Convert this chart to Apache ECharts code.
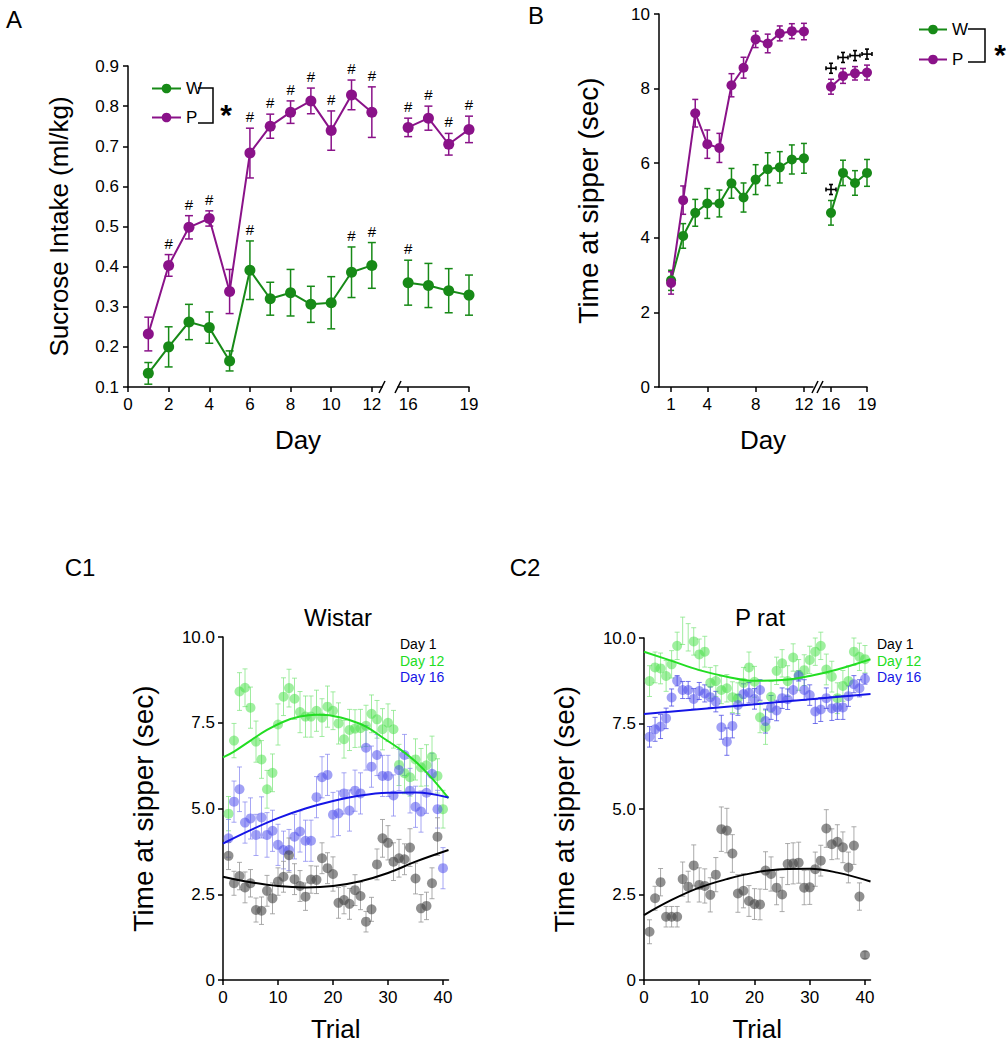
<!DOCTYPE html>
<html>
<head>
<meta charset="utf-8">
<title>Sucrose intake and time at sipper</title>
<script src="https://cdn.jsdelivr.net/npm/echarts@6/dist/echarts.min.js"></script>
<style>
  html, body { margin: 0; padding: 0; background: #fff; }
  #chart { width: 1006px; height: 1050px; }
</style>
</head>
<body>
<div id="chart"></div>
<script>
// ---- panel A : sucrose intake (ml/kg) ----
const daysA1 = [1, 2, 3, 4, 5, 6, 7, 8, 9, 10, 11, 12];
const daysA2 = [16, 17, 18, 19];
const wA1 = [0.134, 0.200, 0.262, 0.248, 0.165, 0.391, 0.320, 0.335, 0.306, 0.310, 0.386, 0.403];
const wA1Err = [0.027, 0.050, 0.044, 0.039, 0.025, 0.073, 0.041, 0.058, 0.045, 0.065, 0.063, 0.057];
const pA1 = [0.232, 0.403, 0.498, 0.520, 0.338, 0.683, 0.750, 0.785, 0.813, 0.739, 0.828, 0.785];
const pA1Err = [0.042, 0.027, 0.029, 0.019, 0.055, 0.062, 0.030, 0.028, 0.032, 0.049, 0.037, 0.063];
const wA2 = [0.360, 0.353, 0.340, 0.329];
const wA2Err = [0.056, 0.055, 0.055, 0.050];
const pA2 = [0.747, 0.770, 0.705, 0.742];
const pA2Err = [0.023, 0.030, 0.027, 0.033];
const hashDaysW = [6, 11, 12, 16];
const hashDaysP = [2, 3, 4, 6, 7, 8, 9, 10, 11, 12, 16, 17, 18, 19];

// ---- panel B : time at sipper (sec) ----
const daysB1 = [1, 2, 3, 4, 5, 6, 7, 8, 9, 10, 11, 12];
const daysB2 = [16, 17, 18, 19];
const wB1 = [2.86, 4.05, 4.67, 4.92, 4.92, 5.46, 5.08, 5.56, 5.84, 5.89, 6.10, 6.13];
const wB1Err = [0.27, 0.33, 0.36, 0.40, 0.36, 0.40, 0.39, 0.40, 0.44, 0.42, 0.39, 0.40];
const pB1 = [2.79, 5.01, 7.34, 6.51, 6.41, 8.09, 8.56, 9.32, 9.21, 9.48, 9.54, 9.53];
const pB1Err = [0.30, 0.38, 0.37, 0.38, 0.39, 0.31, 0.28, 0.22, 0.25, 0.20, 0.20, 0.22];
const wB2 = [4.67, 5.74, 5.47, 5.74];
const wB2Err = [0.33, 0.34, 0.33, 0.36];
const pB2 = [8.05, 8.34, 8.41, 8.43];
const pB2Err = [0.20, 0.20, 0.18, 0.20];
const crossDaysW = [16];
const crossDaysP = [16, 17, 18, 19];

// ---- panels C1 / C2 : per-trial time at sipper ----
const trials = [1, 2, 3, 4, 5, 6, 7, 8, 9, 10, 11, 12, 13, 14, 15, 16, 17, 18, 19, 20,
  21, 22, 23, 24, 25, 26, 27, 28, 29, 30, 31, 32, 33, 34, 35, 36, 37, 38, 39, 40];

const c1Day1 = [3.62, 2.82, 3.03, 2.70, 2.82, 2.04, 2.02, 2.60, 2.38, 2.87, 3.01, 3.64, 2.94, 2.74, 2.43, 2.93, 2.92, 3.55, 3.26, 3.09,
  2.25, 2.33, 2.22, 2.62, 2.45, 1.70, 2.06, 3.37, 4.13, 4.00, 3.45, 3.55, 3.52, 3.86, 2.96, 2.09, 2.16, 2.82, 4.18, null];
const c1Day1Err = [0.40, 0.35, 0.40, 0.45, 0.40, 0.35, 0.40, 0.45, 0.45, 0.40, 0.45, 0.50, 0.45, 0.45, 0.40, 0.40, 0.40, 0.45, 0.45, 0.50,
  0.45, 0.40, 0.45, 0.45, 0.40, 0.30, 0.35, 0.45, 0.55, 0.50, 0.55, 0.55, 0.45, 0.55, 0.45, 0.40, 0.40, 0.45, 0.55, 0];
const c1Day12 = [4.85, 6.98, 8.41, 8.52, 7.94, 6.95, 6.43, 5.56, 6.04, 7.45, 8.26, 8.51, 8.20, 7.81, 7.68, 7.68, 7.85, 7.65, 7.97, 7.85,
  7.48, 7.02, 7.29, 7.33, 7.34, 7.41, 7.76, 7.60, 7.31, 7.50, 7.31, 6.27, 6.03, 5.91, 6.43, 6.20, 6.26, 6.51, 5.95, 4.98];
const c1Day12Err = [0.50, 0.50, 0.55, 0.55, 0.60, 0.60, 0.55, 0.55, 0.55, 0.60, 0.55, 0.55, 0.60, 0.60, 0.60, 0.60, 0.60, 0.55, 0.60, 0.55,
  0.60, 0.55, 0.60, 0.55, 0.55, 0.60, 0.55, 0.55, 0.60, 0.55, 0.55, 0.60, 0.60, 0.55, 0.60, 0.55, 0.60, 0.60, 0.50, 0.55];
const c1Day16 = [4.13, 5.20, 5.56, 4.59, 4.71, 4.23, 4.74, 4.23, 4.35, 3.94, 3.79, 3.79, 4.18, 4.33, 4.06, 4.06, 5.33, 5.91, 5.98, 4.82,
  4.86, 5.44, 4.94, 5.52, 5.44, 6.77, 6.22, 6.56, 5.95, 5.95, 5.38, 6.12, 6.56, 5.52, 5.05, 4.91, 5.46, 6.01, 4.98, 3.26];
const c1Day16Err = [0.55, 0.60, 0.65, 0.60, 0.60, 0.60, 0.60, 0.65, 0.60, 0.60, 0.55, 0.60, 0.65, 0.60, 0.60, 0.60, 0.60, 0.60, 0.60, 0.65,
  0.65, 0.60, 0.60, 0.60, 0.60, 0.65, 0.60, 0.60, 0.60, 0.60, 0.60, 0.60, 0.60, 0.65, 0.60, 0.60, 0.60, 0.60, 0.55, 0.60];

const c2Day1 = [1.41, 2.39, 2.86, 1.85, 1.85, 1.85, 2.95, 2.73, 3.35, 2.78, 2.75, 2.49, 3.08, 4.41, 4.37, 3.70, 2.53, 2.61, 2.31, 2.22,
  2.21, 3.20, 3.10, 2.70, 2.50, 3.39, 3.41, 3.43, 2.70, 2.71, 3.24, 3.49, 4.43, 3.97, 4.04, 3.88, 3.29, 3.93, 2.44, 0.73];
const c2Day1Err = [0.35, 0.35, 0.40, 0.30, 0.30, 0.30, 0.50, 0.45, 0.60, 0.50, 0.50, 0.50, 0.50, 0.65, 0.65, 0.55, 0.55, 0.50, 0.45, 0.45,
  0.45, 0.55, 0.50, 0.50, 0.50, 0.60, 0.60, 0.60, 0.50, 0.50, 0.50, 0.45, 0.55, 0.45, 0.50, 0.45, 0.45, 0.55, 0.40, 0.10];
const c2Day12 = [8.74, 9.14, 9.11, 8.89, 9.23, 9.77, 10.21, 10.02, 9.90, 9.52, 9.60, 8.69, 8.74, 8.48, 8.53, 8.27, 8.24, 8.69, 9.14, 8.72,
  7.68, 7.39, 8.28, 9.04, 9.26, 8.74, 9.43, 8.92, 9.06, 9.36, 9.60, 9.77, 9.08, 8.87, 8.24, 8.60, 8.74, 9.60, 9.45, 9.38];
const c2Day12Err = [0.45, 0.45, 0.45, 0.45, 0.40, 0.40, 0.40, 0.40, 0.40, 0.45, 0.45, 0.45, 0.45, 0.40, 0.40, 0.45, 0.45, 0.45, 0.45, 0.45,
  0.45, 0.50, 0.45, 0.40, 0.40, 0.45, 0.40, 0.45, 0.45, 0.40, 0.40, 0.40, 0.45, 0.45, 0.45, 0.45, 0.45, 0.40, 0.40, 0.40];
const c2Day16 = [7.11, 7.33, 7.41, 7.65, 8.26, 8.75, 8.48, 8.48, 8.22, 8.45, 8.38, 8.27, 8.14, 7.39, 6.97, 7.43, 8.04, 8.36, 8.40, 8.22,
  8.48, 7.57, 7.97, 7.88, 8.24, 8.21, 8.48, 8.89, 8.48, 8.33, 7.85, 7.91, 8.24, 7.94, 7.97, 7.97, 8.30, 8.65, 8.53, 8.80];
const c2Day16Err = [0.30, 0.35, 0.35, 0.30, 0.25, 0.15, 0.25, 0.25, 0.30, 0.25, 0.25, 0.30, 0.30, 0.35, 0.40, 0.35, 0.30, 0.30, 0.30, 0.30,
  0.30, 0.35, 0.35, 0.30, 0.30, 0.30, 0.30, 0.15, 0.30, 0.30, 0.35, 0.35, 0.30, 0.35, 0.35, 0.35, 0.30, 0.25, 0.25, 0.15];

// fitted curves, read at a few trials
const c1FitX = [0, 2, 5, 8, 11, 14, 17, 20, 23, 26, 29, 32, 35, 38, 41];
const c1Fit12 = [6.49, 6.66, 6.98, 7.29, 7.53, 7.68, 7.73, 7.70, 7.58, 7.39, 7.07, 6.75, 6.37, 5.88, 5.30];
const fitX = [0, 5, 10, 15, 20, 25, 30, 35, 41];
const c1Fit16 = [3.98, 4.37, 4.72, 5.00, 5.22, 5.38, 5.46, 5.47, 5.32];
const c1Fit1 = [3.01, 2.85, 2.74, 2.70, 2.74, 2.88, 3.12, 3.45, 3.79];
const c2Fit12 = [9.60, 9.33, 9.06, 8.87, 8.75, 8.77, 8.89, 9.08, 9.38];
const c2Fit1 = [1.90, 2.34, 2.70, 2.95, 3.14, 3.24, 3.25, 3.14, 2.88];
const c2Fit16X = [0, 41];
const c2Fit16 = [7.78, 8.36];

const dayNames = ['Day 1', 'Day 12', 'Day 16'];

// ---- styling ----
const FONT = '"Liberation Sans", Arial, Helvetica, sans-serif';
const GREEN = '#178a17';
const PURPLE = '#8a1289';
const C_GREEN = '#22dd22';
const C_BLUE = '#1515e6';

function pts(xs, ys) {
  return xs.map((x, i) => [x, ys[i]]).filter(d => d[1] != null);
}
function bars(xs, ys, es) {
  return xs.map((x, i) => [x, ys[i], es[i]]).filter(d => d[1] != null);
}
function tops(xs, ys, es, keep) {
  return xs.map((x, i) => [x, ys[i] + es[i]]).filter(d => keep.indexOf(d[0]) >= 0);
}

function xAx(grid, min, max, ticks, extra) {
  return Object.assign({
    gridIndex: grid, type: 'value', min: min, max: max,
    axisLine: { onZero: false, lineStyle: { color: '#000', width: 1.5 } },
    axisTick: { customValues: ticks, length: 5, lineStyle: { color: '#000', width: 1.5 } },
    axisLabel: { customValues: ticks, color: '#000', fontSize: 17, fontFamily: FONT, margin: 9 },
    splitLine: { show: false }
  }, extra || {});
}
function yAx(grid, min, max, interval, extra) {
  return Object.assign({
    gridIndex: grid, type: 'value', min: min, max: max, interval: interval,
    axisLine: { show: true, onZero: false, lineStyle: { color: '#000', width: 1.5 } },
    axisTick: { show: true, length: 5, lineStyle: { color: '#000', width: 1.5 } },
    axisLabel: { color: '#000', fontSize: 17, fontFamily: FONT, margin: 9 },
    splitLine: { show: false }
  }, extra || {});
}
function hiddenY(grid, min, max) {
  return { gridIndex: grid, type: 'value', min: min, max: max, show: false, splitLine: { show: false } };
}

function lineS(name, grid, data, color, size) {
  return {
    name: name, type: 'line', xAxisIndex: grid, yAxisIndex: grid, data: data,
    symbol: 'circle', symbolSize: size, lineStyle: { color: color, width: 2 },
    itemStyle: { color: color }, z: 4, animation: false
  };
}
function errS(grid, data, color, cap, lw, z) {
  return {
    type: 'custom', xAxisIndex: grid, yAxisIndex: grid, data: data, z: z || 3, animation: false,
    silent: true,
    renderItem: function (params, api) {
      const x = api.value(0), m = api.value(1), e = api.value(2);
      const t = api.coord([x, m + e]);
      const b = api.coord([x, m - e]);
      const s = { stroke: color, lineWidth: lw, fill: null };
      return {
        type: 'group', children: [
          { type: 'line', shape: { x1: t[0], y1: t[1], x2: b[0], y2: b[1] }, style: s },
          { type: 'line', shape: { x1: t[0] - cap, y1: t[1], x2: t[0] + cap, y2: t[1] }, style: s },
          { type: 'line', shape: { x1: b[0] - cap, y1: b[1], x2: b[0] + cap, y2: b[1] }, style: s }
        ]
      };
    }
  };
}
// '#' marks above the error bars
function hashS(grid, data) {
  return {
    type: 'custom', xAxisIndex: grid, yAxisIndex: grid, data: data, z: 5, animation: false,
    silent: true,
    renderItem: function (params, api) {
      const p = api.coord([api.value(0), api.value(1)]);
      return {
        type: 'text', x: p[0], y: p[1] - 4,
        style: { text: '#', fill: '#000', font: '15px ' + FONT, align: 'center', verticalAlign: 'bottom' }
      };
    }
  };
}
// small cross-potent marks above the error bars
function crossS(grid, data) {
  return {
    type: 'custom', xAxisIndex: grid, yAxisIndex: grid, data: data, z: 5, animation: false,
    silent: true,
    renderItem: function (params, api) {
      const p = api.coord([api.value(0), api.value(1)]);
      const cx = p[0], cy = p[1] - 11, r = 5, c = 2;
      const s = { stroke: '#000', lineWidth: 1.6, fill: null };
      const seg = (x1, y1, x2, y2) => ({ type: 'line', shape: { x1: x1, y1: y1, x2: x2, y2: y2 }, style: s });
      return {
        type: 'group', children: [
          seg(cx - r, cy, cx + r, cy), seg(cx, cy - r, cx, cy + r),
          seg(cx - r, cy - c, cx - r, cy + c), seg(cx + r, cy - c, cx + r, cy + c),
          seg(cx - c, cy - r, cx + c, cy - r), seg(cx - c, cy + r, cx + c, cy + r)
        ]
      };
    }
  };
}
function dotS(name, grid, data, color) {
  return {
    name: name, type: 'scatter', xAxisIndex: grid, yAxisIndex: grid, data: data,
    symbolSize: 10, itemStyle: { color: color }, z: 3, animation: false
  };
}
function fitS(name, grid, xs, ys, color) {
  return {
    name: name, type: 'line', xAxisIndex: grid, yAxisIndex: grid, data: pts(xs, ys),
    symbol: 'none', smooth: 0.4, lineStyle: { color: color, width: 2 }, z: 6, animation: false
  };
}

function txt(x, y, s, size, extra) {
  return {
    type: 'text', x: x, y: y, z: 10,
    style: Object.assign({ text: s, fill: '#000', font: size + 'px ' + FONT, align: 'center', verticalAlign: 'middle' }, extra || {})
  };
}
function pl(points, w) {
  return { type: 'polyline', z: 10, shape: { points: points }, style: { stroke: '#000', lineWidth: w || 1.5, fill: null } };
}
function slash(x, y) {
  return { type: 'line', z: 10, shape: { x1: x - 3, y1: y + 6, x2: x + 3, y2: y - 6 }, style: { stroke: '#000', lineWidth: 1.5 } };
}
function dayKey(x, y) {
  const colors = ['#000', C_GREEN, C_BLUE];
  return dayNames.map((n, i) => txt(x, y + i * 16.5, n, 14, { fill: colors[i], align: 'left' }));
}

const chart = echarts.init(document.getElementById('chart'), null, { renderer: 'svg' });

const cFmt = v => (v === 0 ? '0' : v.toFixed(1));
const nameStyle = size => ({ fontSize: size, color: '#000', fontFamily: FONT });

const option = {
  backgroundColor: '#fff',
  textStyle: { fontFamily: FONT },
  grid: [
    { left: 128, top: 66, width: 254, height: 321 },   // A, days 0-12
    { left: 398, top: 66, width: 71, height: 321 },    // A, days 16-19
    { left: 659, top: 14, width: 154, height: 373 },   // B, days 0-12
    { left: 822, top: 14, width: 45, height: 373 },    // B, days 16-19
    { left: 223, top: 637, width: 225.5, height: 343 }, // C1
    { left: 644, top: 638, width: 226.5, height: 342 }  // C2
  ],
  xAxis: [
    xAx(0, 0, 12.5, [0, 2, 4, 6, 8, 10, 12]),
    xAx(1, 15.5, 19, [16, 19]),
    xAx(2, 0, 12.75, [1, 4, 8, 12]),
    xAx(3, 15.25, 19, [16, 19]),
    xAx(4, 0, 41, [0, 10, 20, 30, 40], {
      name: 'Trial', nameLocation: 'middle', nameGap: 36, nameTextStyle: nameStyle(26)
    }),
    xAx(5, 0, 41, [0, 10, 20, 30, 40], {
      name: 'Trial', nameLocation: 'middle', nameGap: 36, nameTextStyle: nameStyle(26)
    })
  ],
  yAxis: [
    yAx(0, 0.1, 0.9, 0.1, {
      axisLabel: { color: '#000', fontSize: 17, fontFamily: FONT, margin: 9, formatter: v => v.toFixed(1) },
      name: 'Sucrose Intake (ml/kg)', nameLocation: 'middle', nameGap: 56, nameTextStyle: nameStyle(26)
    }),
    hiddenY(1, 0.1, 0.9),
    yAx(2, 0, 10, 2, {
      name: 'Time at sipper (sec)', nameLocation: 'middle', nameGap: 57, nameTextStyle: nameStyle(28)
    }),
    hiddenY(3, 0, 10),
    yAx(4, 0, 10, 2.5, {
      axisLabel: { color: '#000', fontSize: 17, fontFamily: FONT, margin: 8, formatter: cFmt },
      name: 'Time at sipper (sec)', nameLocation: 'middle', nameGap: 66, nameTextStyle: nameStyle(28)
    }),
    yAx(5, 0, 10, 2.5, {
      axisLabel: { color: '#000', fontSize: 17, fontFamily: FONT, margin: 8, formatter: cFmt },
      name: 'Time at sipper (sec)', nameLocation: 'middle', nameGap: 66, nameTextStyle: nameStyle(28)
    })
  ],
  legend: [
    {
      data: ['W', 'P'], orient: 'vertical', left: 146, top: 75, itemWidth: 29, itemHeight: 12, itemGap: 12,
      textStyle: { fontSize: 17, color: '#000', fontFamily: FONT }, selectedMode: false
    },
    {
      data: ['W', 'P'], orient: 'vertical', left: 913, top: 16, itemWidth: 28, itemHeight: 12, itemGap: 13,
      textStyle: { fontSize: 17, color: '#000', fontFamily: FONT }, selectedMode: false
    }
  ],
  graphic: [
    txt(14, 19, 'A', 24),
    txt(536, 15, 'B', 24),
    txt(80, 567, 'C1', 24),
    txt(525, 567, 'C2', 24),
    txt(298, 440, 'Day', 26),
    txt(763, 440, 'Day', 26),
    txt(338, 617, 'Wistar', 24),
    txt(760, 617, 'P rat', 24),
    // group-effect brackets with asterisk
    pl([[198, 88], [213, 88], [213, 123], [198, 123]]),
    txt(226, 114, '*', 30, { font: 'bold 30px ' + FONT }),
    pl([[968, 29], [985, 29], [985, 62], [968, 62]]),
    txt(1000, 54, '*', 30, { font: 'bold 30px ' + FONT }),
    // axis breaks
    slash(382, 387), slash(398, 387),
    slash(815, 387), slash(820, 387)
  ].concat(dayKey(400, 644), dayKey(877, 644)),
  series: [
    // A
    errS(0, bars(daysA1, wA1, wA1Err), GREEN, 4, 1.5),
    errS(1, bars(daysA2, wA2, wA2Err), GREEN, 4, 1.5),
    errS(0, bars(daysA1, pA1, pA1Err), PURPLE, 4, 1.5),
    errS(1, bars(daysA2, pA2, pA2Err), PURPLE, 4, 1.5),
    lineS('W', 0, pts(daysA1, wA1), GREEN, 11),
    lineS('W', 1, pts(daysA2, wA2), GREEN, 11),
    lineS('P', 0, pts(daysA1, pA1), PURPLE, 11),
    lineS('P', 1, pts(daysA2, pA2), PURPLE, 11),
    hashS(0, tops(daysA1, wA1, wA1Err, hashDaysW)),
    hashS(1, tops(daysA2, wA2, wA2Err, hashDaysW)),
    hashS(0, tops(daysA1, pA1, pA1Err, hashDaysP)),
    hashS(1, tops(daysA2, pA2, pA2Err, hashDaysP)),
    // B
    errS(2, bars(daysB1, wB1, wB1Err), GREEN, 3, 1.5),
    errS(3, bars(daysB2, wB2, wB2Err), GREEN, 3, 1.5),
    errS(2, bars(daysB1, pB1, pB1Err), PURPLE, 3, 1.5),
    errS(3, bars(daysB2, pB2, pB2Err), PURPLE, 3, 1.5),
    lineS('W', 2, pts(daysB1, wB1), GREEN, 10),
    lineS('W', 3, pts(daysB2, wB2), GREEN, 10),
    lineS('P', 2, pts(daysB1, pB1), PURPLE, 10),
    lineS('P', 3, pts(daysB2, pB2), PURPLE, 10),
    crossS(3, tops(daysB2, wB2, wB2Err, crossDaysW)),
    crossS(3, tops(daysB2, pB2, pB2Err, crossDaysP)),
    // C1 Wistar
    errS(4, bars(trials, c1Day12, c1Day12Err), 'rgba(130,230,130,0.75)', 2.5, 1, 2),
    errS(4, bars(trials, c1Day16, c1Day16Err), 'rgba(130,130,240,0.7)', 2.5, 1, 2),
    errS(4, bars(trials, c1Day1, c1Day1Err), 'rgba(150,150,150,0.8)', 2.5, 1, 2),
    dotS('Day 12', 4, pts(trials, c1Day12), 'rgba(70,225,70,0.65)'),
    dotS('Day 16', 4, pts(trials, c1Day16), 'rgba(75,75,235,0.65)'),
    dotS('Day 1', 4, pts(trials, c1Day1), 'rgba(70,70,70,0.75)'),
    fitS('Day 12', 4, c1FitX, c1Fit12, C_GREEN),
    fitS('Day 16', 4, fitX, c1Fit16, C_BLUE),
    fitS('Day 1', 4, fitX, c1Fit1, '#000'),
    // C2 P rat
    errS(5, bars(trials, c2Day12, c2Day12Err), 'rgba(130,230,130,0.75)', 2.5, 1, 2),
    errS(5, bars(trials, c2Day16, c2Day16Err), 'rgba(80,80,230,0.8)', 2.5, 1, 2),
    errS(5, bars(trials, c2Day1, c2Day1Err), 'rgba(150,150,150,0.8)', 2.5, 1, 2),
    dotS('Day 12', 5, pts(trials, c2Day12), 'rgba(70,225,70,0.65)'),
    dotS('Day 16', 5, pts(trials, c2Day16), 'rgba(75,75,235,0.65)'),
    dotS('Day 1', 5, pts(trials, c2Day1), 'rgba(70,70,70,0.75)'),
    fitS('Day 12', 5, fitX, c2Fit12, C_GREEN),
    fitS('Day 16', 5, c2Fit16X, c2Fit16, C_BLUE),
    fitS('Day 1', 5, fitX, c2Fit1, '#000')
  ]
};

chart.setOption(option);
window.addEventListener('resize', () => chart.resize());
</script>
</body>
</html>
